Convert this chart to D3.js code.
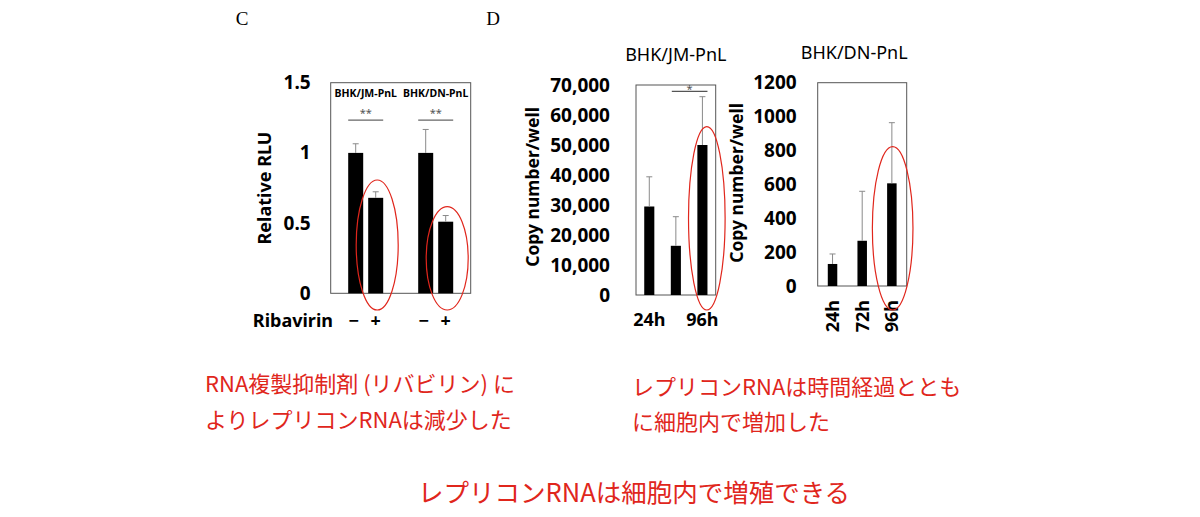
<!DOCTYPE html>
<html>
<head>
<meta charset="utf-8">
<title>レプリコンRNA</title>
<script src="https://cdn.jsdelivr.net/npm/d3@7"></script>
<style>
  body { margin: 0; background: #fff; }
  svg { display: block; }
</style>
</head>
<body>
<div id="chart"></div>
<script>
// ---- panel C : luciferase, with / without ribavirin ----
const cGroups = ["BHK/JM-PnL", "BHK/DN-PnL"];
const cTreat = ["−", "+"];
const cValues = [[1.00, 0.68], [1.00, 0.51]];
const cErrors = [[0.065, 0.043], [0.167, 0.044]];
const cTicks = [0, 0.5, 1, 1.5];
const cSig = ["**", "**"];

// ---- panel D : copy number over time ----
const dTimes = ["24h", "72h", "96h"];
const jmValues = [29500, 16400, 50000];
const jmErrors = [9900, 9700, 16100];
const jmTicks = [0, 10000, 20000, 30000, 40000, 50000, 60000, 70000];
const jmTickLabels = ["24h", "96h"];
const jmSig = "*";
const dnValues = [130, 267, 606];
const dnErrors = [59, 292, 358];
const dnTicks = [0, 200, 400, 600, 800, 1000, 1200];

// ---- notes ----
const noteC = ["RNA複製抑制剤 (リバビリン) に", "よりレプリコンRNAは減少した"];
const noteD = ["レプリコンRNAは時間経過ととも", "に細胞内で増加した"];
const noteMain = "レプリコンRNAは細胞内で増殖できる";

const W = 1200, H = 517;
const red = "#e0261c";
const sans = "'Noto Sans', 'Open Sans', sans-serif";
const cjk = "'Noto Sans CJK JP', sans-serif";

const svg = d3.select("#chart").append("svg")
    .attr("width", W).attr("height", H)
    .attr("viewBox", [0, 0, W, H]);

function frame(g, x0, x1, y) {
  g.append("rect")
    .attr("x", x0).attr("y", y.range()[1])
    .attr("width", x1 - x0).attr("height", y.range()[0] - y.range()[1])
    .attr("fill", "none").attr("stroke", "#555").attr("stroke-width", 1);
}

function yAxis(g, y, ticks, fmt, x0, pad) {
  g.append("g")
    .attr("transform", `translate(${x0},0)`)
    .call(d3.axisLeft(y).tickValues(ticks).tickFormat(fmt).tickSize(0).tickPadding(pad))
    .attr("font-size", 19).attr("font-family", sans).attr("font-weight", 700)
    .call(a => a.select(".domain").remove());
}

function errBar(g, cx, y, v, e, cap) {
  g.append("line").attr("x1", cx).attr("x2", cx)
    .attr("y1", y(v)).attr("y2", y(v + e))
    .attr("stroke", "#8a8a8a").attr("stroke-width", 1);
  g.append("line").attr("x1", cx - cap).attr("x2", cx + cap)
    .attr("y1", y(v + e)).attr("y2", y(v + e))
    .attr("stroke", "#8a8a8a").attr("stroke-width", 1);
}

function yTitle(g, text, cx, cy, size) {
  g.append("text")
    .attr("transform", `translate(${cx},${cy}) rotate(-90)`)
    .attr("text-anchor", "middle").attr("dy", "0.35em")
    .attr("font-family", sans).attr("font-weight", 700).attr("font-size", size)
    .text(text);
}

// panel letters
svg.append("text").attr("x", 242).attr("y", 25).attr("text-anchor", "middle")
  .attr("font-family", "'Liberation Serif', serif").attr("font-size", 19).text("C");
svg.append("text").attr("x", 493).attr("y", 25).attr("text-anchor", "middle")
  .attr("font-family", "'Liberation Serif', serif").attr("font-size", 19).text("D");

// ================= panel C =================
const gc = svg.append("g");
const cx0 = 330.7, cx1 = 470.7;
const yc = d3.scaleLinear().domain([0, 1.5]).range([293.3, 82.7]);
const xc = d3.scaleBand().domain(cGroups).range([cx0, cx1]).padding(0);
const xcIn = d3.scaleBand().domain(cTreat).range([17.5, 52.5]).paddingInner(0.25);

frame(gc, cx0, cx1, yc);
yAxis(gc, yc, cTicks, d => String(d), cx0, 20);
yTitle(gc, "Relative RLU", 265, 188, 18);

cGroups.forEach((grp, gi) => {
  const gx = xc(grp);
  cTreat.forEach((t, ti) => {
    const bx = gx + xcIn(t);
    gc.append("rect")
      .attr("x", bx).attr("y", yc(cValues[gi][ti]))
      .attr("width", xcIn.bandwidth())
      .attr("height", yc(0) - yc(cValues[gi][ti]))
      .attr("fill", "#000");
    errBar(gc, bx + xcIn.bandwidth() / 2, yc, cValues[gi][ti], cErrors[gi][ti], 3);
    gc.append("text")
      .attr("x", bx + xcIn.bandwidth() / 2 - (ti === 0 ? 2 : 0)).attr("y", 321).attr("dy", "0.35em")
      .attr("text-anchor", "middle")
      .attr("font-family", sans).attr("font-weight", 700).attr("font-size", 18)
      .text(t);
  });
  gc.append("text")
    .attr("x", gx + xc.bandwidth() / 2).attr("y", 93).attr("dy", "0.35em")
    .attr("text-anchor", "middle")
    .attr("font-family", sans).attr("font-weight", 700).attr("font-size", 10.5)
    .text(grp);
  // significance bar
  const sx0 = gx + xcIn(cTreat[0]), sx1 = gx + xcIn(cTreat[1]) + xcIn.bandwidth();
  gc.append("line").attr("x1", sx0).attr("x2", sx1)
    .attr("y1", yc(1.233)).attr("y2", yc(1.233))
    .attr("stroke", "#666").attr("stroke-width", 1.2);
  gc.append("text")
    .attr("x", (sx0 + sx1) / 2).attr("y", yc(1.233) - 3)
    .attr("text-anchor", "middle")
    .attr("font-family", sans).attr("font-size", 11).attr("fill", "#555")
    .text(cSig[gi]);
});

gc.append("text").attr("x", 333).attr("y", 321).attr("dy", "0.35em")
  .attr("text-anchor", "end")
  .attr("font-family", sans).attr("font-weight", 700).attr("font-size", 18)
  .text("Ribavirin");

// red ellipses on "+" bars
cGroups.forEach((grp, gi) => {
  const bc = xc(grp) + xcIn("+") + xcIn.bandwidth() / 2;
  const top = gi === 0 ? 180 : 206.7, bot = 310;
  gc.append("ellipse")
    .attr("cx", bc + 1.5).attr("cy", (top + bot) / 2)
    .attr("rx", 21).attr("ry", (bot - top) / 2)
    .attr("fill", "none").attr("stroke", red).attr("stroke-width", 1.2);
});

// ================= panel D : JM =================
const gj = svg.append("g");
const jx0 = 636, jx1 = 715.7;
const yj = d3.scaleLinear().domain([0, 70000]).range([295, 85]);
const xj = d3.scaleBand().domain(dTimes).range([jx0, jx1]).paddingInner(0.62).paddingOuter(0.31);

frame(gj, jx0, jx1, yj);
yAxis(gj, yj, jmTicks, d3.format(","), jx0, 26);
yTitle(gj, "Copy number/well", 533, 187, 17.5);

gj.append("text").attr("x", (jx0 + jx1) / 2).attr("y", 55).attr("dy", "0.35em")
  .attr("text-anchor", "middle").attr("font-family", sans).attr("font-size", 18)
  .text(cGroups[0]);

dTimes.forEach((t, i) => {
  gj.append("rect")
    .attr("x", xj(t)).attr("y", yj(jmValues[i]))
    .attr("width", xj.bandwidth()).attr("height", yj(0) - yj(jmValues[i]))
    .attr("fill", "#000");
  errBar(gj, xj(t) + xj.bandwidth() / 2, yj, jmValues[i], jmErrors[i], 3);
});

gj.append("g")
  .attr("transform", `translate(0,${yj(0)})`)
  .call(d3.axisBottom(xj).tickValues(jmTickLabels).tickSize(0).tickPadding(18))
  .attr("font-size", 18).attr("font-family", sans).attr("font-weight", 700)
  .call(a => a.select(".domain").remove());

{
  const sx0 = xj(dTimes[1]) + 1, sx1 = xj(dTimes[2]) + xj.bandwidth();
  gj.append("line").attr("x1", sx0).attr("x2", sx1)
    .attr("y1", yj(67900)).attr("y2", yj(67900))
    .attr("stroke", "#555").attr("stroke-width", 1.2);
  gj.append("text").attr("x", (sx0 + sx1) / 2).attr("y", yj(67900) + 2)
    .attr("text-anchor", "middle").attr("font-family", sans).attr("font-size", 11)
    .attr("fill", "#555").text(jmSig);
  const bc = xj(dTimes[2]) + xj.bandwidth() / 2;
  gj.append("ellipse")
    .attr("cx", bc + 4.4).attr("cy", 218.3).attr("rx", 18.3).attr("ry", 91.7)
    .attr("fill", "none").attr("stroke", red).attr("stroke-width", 1.2);
}

// ================= panel D : DN =================
const gd = svg.append("g");
const dx0 = 817.7, dx1 = 906.7;
const yd = d3.scaleLinear().domain([0, 1200]).range([286, 82.7]);
const xd = d3.scaleBand().domain(dTimes).range([dx0, dx1]).paddingInner(0.68).paddingOuter(0.34);

frame(gd, dx0, dx1, yd);
yAxis(gd, yd, dnTicks, d => String(d), dx0, 21);
yTitle(gd, "Copy number/well", 736.7, 183, 17.5);

gd.append("text").attr("x", (dx0 + dx1) / 2 - 8).attr("y", 53).attr("dy", "0.35em")
  .attr("text-anchor", "middle").attr("font-family", sans).attr("font-size", 18)
  .text(cGroups[1]);

dTimes.forEach((t, i) => {
  const bc = xd(t) + xd.bandwidth() / 2;
  gd.append("rect")
    .attr("x", xd(t)).attr("y", yd(dnValues[i]))
    .attr("width", xd.bandwidth()).attr("height", yd(0) - yd(dnValues[i]))
    .attr("fill", "#000");
  errBar(gd, bc, yd, dnValues[i], dnErrors[i], 3);
  gd.append("text")
    .attr("transform", `translate(${bc},${yd(0) + 14}) rotate(-90)`)
    .attr("text-anchor", "end").attr("dy", "0.35em")
    .attr("font-family", sans).attr("font-weight", 700).attr("font-size", 18)
    .text(t);
});

{
  const bc = xd(dTimes[2]) + xd.bandwidth() / 2;
  gd.append("ellipse")
    .attr("cx", bc + 0.8).attr("cy", 228.3).attr("rx", 20.3).attr("ry", 81.7)
    .attr("fill", "none").attr("stroke", red).attr("stroke-width", 1.2);
}

// ================= notes =================
const notes = svg.append("g").attr("fill", red).attr("font-family", cjk);
notes.selectAll(".nc").data(noteC).join("text")
  .attr("x", 205).attr("y", (d, i) => 391.5 + i * 36.5)
  .attr("font-size", 22).text(d => d);
notes.selectAll(".nd").data(noteD).join("text")
  .attr("x", 632).attr("y", (d, i) => 394.5 + i * 35.5)
  .attr("font-size", 22).text(d => d);
notes.append("text").attr("x", 418).attr("y", 501.5)
  .attr("font-size", 25.5).text(noteMain);
</script>
</body>
</html>
